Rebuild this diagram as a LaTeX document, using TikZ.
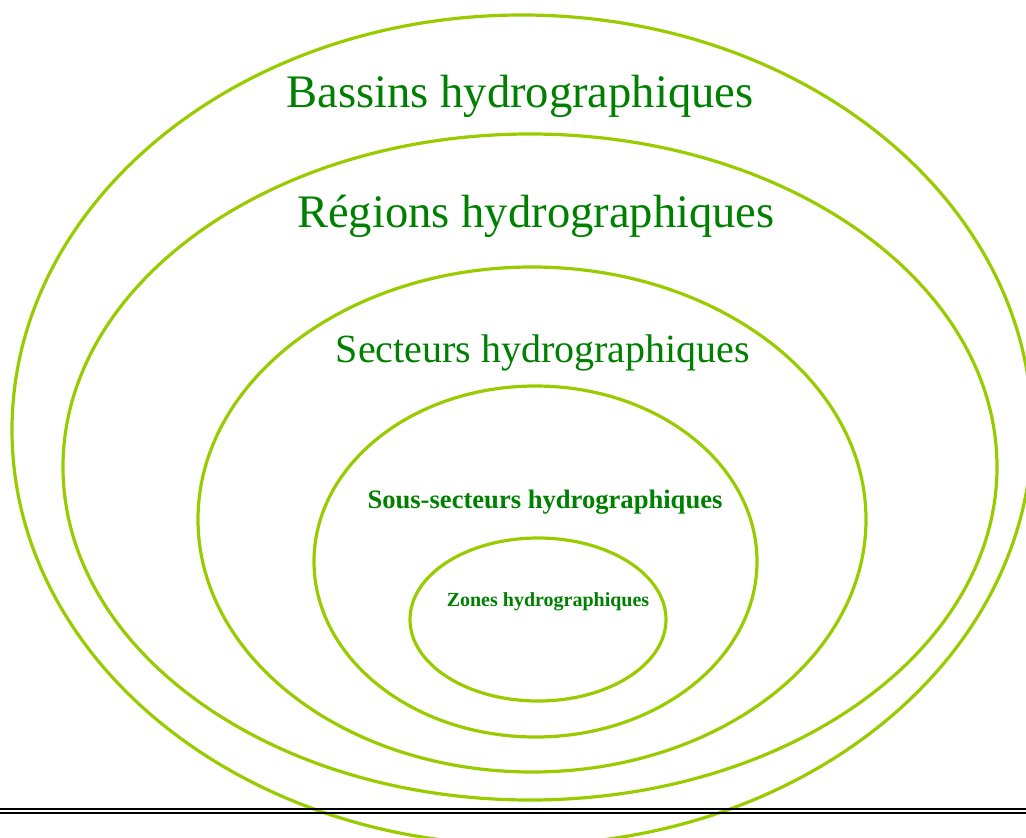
\documentclass[tikz,border=0pt]{standalone}
\usepackage{fontspec}
\setmainfont{Liberation Serif}
\usepackage{tikz}
\usetikzlibrary{shapes.geometric}
\usetikzlibrary{positioning}

\tikzset{
    level/.style = {draw=levelgreen, line width=3.2pt, ellipse, inner sep=0pt},
    levellabel/.style = {text=labelgreen, anchor=base, inner sep=0pt}
}

\begin{document}
\begin{tikzpicture}[x=1pt, y=-1pt]
            \definecolor{levelgreen}{HTML}{99CC00};
            \definecolor{labelgreen}{HTML}{008000};
            \useasboundingbox (0,0) rectangle (1026,838);
            \clip (0,0) rectangle (1026,838);

            \node [level, minimum width=1020pt, minimum height=830pt] (bassins) at (522,430) {};
            \node [level, minimum width=934pt, minimum height=666pt] (regions) at (530,467) {};
            \node [level, minimum width=668pt, minimum height=505pt] (secteurs) at (532,519.5) {};
            \node [level, minimum width=443pt, minimum height=351pt] (soussecteurs) at (535.5,561.5) {};
            \node [level, minimum width=256pt, minimum height=163pt] (zones) at (538,619.5) {};

            \node [levellabel, font=\fontsize{46.6}{50}\selectfont] (bassinslabel) at (520,107) {Bassins hydrographiques};
            \node [levellabel, font=\fontsize{46.6}{50}\selectfont] (regionslabel) at (536,227) {Régions hydrographiques};
            \node [levellabel, font=\fontsize{40}{44}\selectfont] (secteurslabel) at (543,362.5) {Secteurs hydrographiques};
            \node [levellabel, font=\fontsize{26.6}{30}\selectfont\bfseries] (soussecteurslabel) at (545,508) {Sous-secteurs hydrographiques};
            \node [levellabel, font=\fontsize{20}{24}\selectfont\bfseries] (zoneslabel) at (548,606) {Zones hydrographiques};

            %\node [above = 2mm of zones] {};
            \draw [line width=1.8pt] (0,808.7) -- (1026,808.7);
            \draw [line width=1.8pt] (0,813.3) -- (1026,813.3);
        \end{tikzpicture}
\end{document}
